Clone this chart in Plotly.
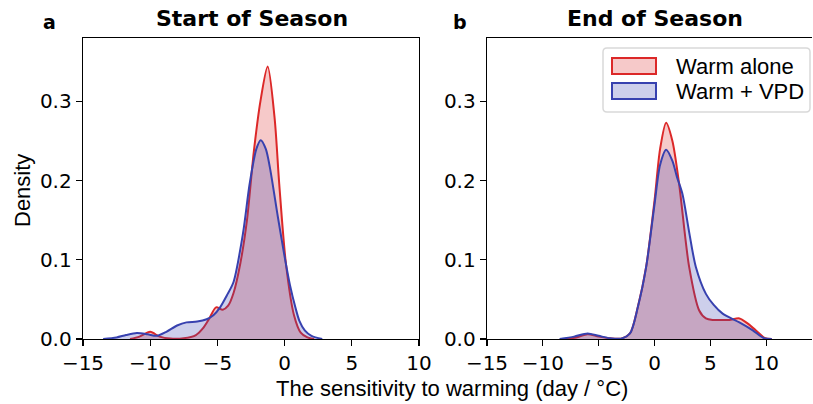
import plotly.graph_objects as go

# ---- data (x in day/°C, density) ----
sos_warm_x = [-11.5, -10.8, -10.0, -9.3, -8.5, -7.5, -6.6, -6.1, -5.6, -5.1, -4.6, -4.2, -3.8, -3.3, -2.8, -2.3, -1.8, -1.26, -0.75, -0.4, 0.1, 0.7, 1.2, 1.7, 2.2]
sos_warm_y = [0.0, 0.003, 0.009, 0.003, 0.0005, 0.001, 0.005, 0.013, 0.026, 0.040, 0.037, 0.042, 0.058, 0.095, 0.150, 0.235, 0.300, 0.344, 0.280, 0.196, 0.095, 0.030, 0.008, 0.002, 0.0]

sos_vpd_x = [-13.5, -12.5, -11.8, -11.0, -10.2, -9.5, -8.8, -8.0, -7.3, -6.5, -5.8, -5.3, -4.8, -4.3, -3.8, -3.1, -2.6, -2.1, -1.78, -1.4, -1.1, -0.5, 0.0, 0.4, 0.8, 1.1, 1.5, 2.0, 2.8]
sos_vpd_y = [0.0, 0.002, 0.005, 0.0075, 0.006, 0.004, 0.009, 0.017, 0.021, 0.022, 0.025, 0.030, 0.040, 0.055, 0.072, 0.133, 0.196, 0.240, 0.251, 0.240, 0.217, 0.154, 0.104, 0.068, 0.040, 0.023, 0.011, 0.004, 0.0]

eos_warm_x = [-8.0, -7.0, -6.0, -5.0, -4.0, -3.0, -2.2, -1.5, -0.75, 0.0, 0.5, 1.04, 1.6, 2.2, 3.1, 4.0, 4.6, 5.2, 6.0, 6.7, 7.6, 8.3, 9.06, 9.9, 10.5]
eos_warm_y = [0.0, 0.002, 0.006, 0.003, 0.001, 0.0005, 0.007, 0.040, 0.091, 0.175, 0.240, 0.273, 0.250, 0.196, 0.091, 0.036, 0.026, 0.024, 0.024, 0.024, 0.026, 0.020, 0.011, 0.001, 0.0]

eos_vpd_x = [-8.5, -7.2, -6.0, -5.0, -4.0, -3.0, -2.2, -1.5, -0.75, 0.0, 0.5, 1.04, 1.6, 2.0, 2.5, 3.1, 3.7, 4.6, 5.3, 6.1, 7.6, 8.8, 9.8, 10.5]
eos_vpd_y = [0.0, 0.003, 0.007, 0.004, 0.001, 0.0005, 0.007, 0.040, 0.091, 0.170, 0.220, 0.239, 0.225, 0.205, 0.183, 0.135, 0.091, 0.057, 0.043, 0.032, 0.021, 0.011, 0.001, 0.0]

series_names = ["Warm alone", "Warm + VPD"]
panel_titles = ["Start of Season", "End of Season"]
panel_letters = ["a", "b"]
y_ticks = [0.0, 0.1, 0.2, 0.3]
x_ticks = [-15, -10, -5, 0, 5, 10]
x_label = "The sensitivity to warming (day / °C)"
y_label = "Density"

RED = "rgb(220,40,40)"
RED_FILL = "rgba(220,40,40,0.25)"
BLUE = "rgb(55,65,175)"
BLUE_FILL = "rgba(55,65,175,0.25)"

W, H = 813, 404
ML, MR, MT, MB = 83, 1, 38, 65
PW = W - ML - MR
PH = H - MT - MB

def px2x(p):
    return (p - ML) / PW

def px2y(p):
    return (H - MB - p) / PH

fig = go.Figure()

panels = [
    ("x", "y", sos_warm_x, sos_warm_y, sos_vpd_x, sos_vpd_y),
    ("x2", "y2", eos_warm_x, eos_warm_y, eos_vpd_x, eos_vpd_y),
]
for xa, ya, wx, wy, vx, vy in panels:
    fig.add_trace(go.Scatter(x=wx, y=wy, mode="lines", line=dict(color=RED, width=2, shape="spline", smoothing=0.8),
                             fill="tozeroy", fillcolor=RED_FILL, name=series_names[0], showlegend=False,
                             xaxis=xa, yaxis=ya, hoverinfo="skip"))
    fig.add_trace(go.Scatter(x=vx, y=vy, mode="lines", line=dict(color=BLUE, width=2, shape="spline", smoothing=0.8),
                             fill="tozeroy", fillcolor=BLUE_FILL, name=series_names[1], showlegend=False,
                             xaxis=xa, yaxis=ya, hoverinfo="skip"))

tickfont = dict(family="DejaVu Sans", size=20, color="black")
ax_common = dict(showline=True, linecolor="black", linewidth=1.3, ticks="outside", ticklen=6, tickwidth=1.3,
                 tickcolor="black", showgrid=False, zeroline=False, tickfont=tickfont, automargin=False)

left_dom = [0, px2x(419)]
right_dom = [px2x(487), 1]

fig.update_layout(
    template="none",
    width=W, height=H, autosize=False, margin=dict(l=ML, r=MR, t=MT, b=MB, pad=0, autoexpand=False),
    plot_bgcolor="white", paper_bgcolor="white",
    xaxis=dict(domain=left_dom, range=[-15, 10], tickvals=x_ticks, mirror=True, anchor="y", **ax_common),
    yaxis=dict(domain=[0, 1], range=[0, 0.38], tickvals=y_ticks, tickformat=".1f", mirror=True, anchor="x", **ax_common),
    xaxis2=dict(domain=right_dom, range=[-15, 14.1], tickvals=x_ticks, mirror=True, anchor="y2", **ax_common),
    yaxis2=dict(domain=[0, 1], range=[0, 0.38], tickvals=y_ticks, tickformat=".1f", mirror=False, anchor="x2", **ax_common),
    showlegend=False,
)

# ---- legend drawn as shapes + text (matplotlib style) ----
def rounded_rect(x0, y0, x1, y1, r):
    X = px2x
    Y = px2y
    rx = r / PW
    ry = r / PH
    a, b, c, d = X(x0), Y(y1), X(x1), Y(y0)  # left, bottom, right, top
    return (f"M {a+rx},{d} L {c-rx},{d} Q {c},{d} {c},{d-ry} L {c},{b+ry} Q {c},{b} {c-rx},{b} "
            f"L {a+rx},{b} Q {a},{b} {a},{b+ry} L {a},{d-ry} Q {a},{d} {a+rx},{d} Z")

shapes = [
    dict(type="path", path=rounded_rect(603, 48, 810, 112, 4), xref="paper", yref="paper",
         line=dict(color="#d9d9d9", width=1.5), fillcolor="rgba(255,255,255,0.85)", layer="above"),
    dict(type="rect", xref="paper", yref="paper", x0=px2x(612), x1=px2x(656), y0=px2y(74), y1=px2y(58),
         line=dict(color=RED, width=2), fillcolor=RED_FILL, layer="above"),
    dict(type="rect", xref="paper", yref="paper", x0=px2x(612), x1=px2x(656), y0=px2y(99), y1=px2y(83),
         line=dict(color=BLUE, width=2), fillcolor=BLUE_FILL, layer="above"),
]
fig.update_layout(shapes=shapes)

annotations = [
    dict(text="<b>" + panel_titles[0] + "</b>", x=px2x(252), y=px2y(18), font=dict(family="DejaVu Sans", size=22, color="black")),
    dict(text="<b>" + panel_titles[1] + "</b>", x=px2x(655), y=px2y(18), font=dict(family="DejaVu Sans", size=22, color="black")),
    dict(text="<b>" + panel_letters[0] + "</b>", x=px2x(49), y=px2y(22), font=dict(family="DejaVu Sans", size=19, color="black")),
    dict(text="<b>" + panel_letters[1] + "</b>", x=px2x(460), y=px2y(22), font=dict(family="DejaVu Sans", size=19, color="black")),
    dict(text=x_label, x=px2x(452), y=px2y(388), font=dict(family="Liberation Sans", size=22, color="black")),
    dict(text=y_label, x=px2x(22), y=px2y(191), textangle=-90, font=dict(family="Liberation Sans", size=22, color="black")),
]
for a in annotations:
    a.update(xanchor="center")
annotations += [
    dict(text=series_names[0], x=px2x(674), y=px2y(67), xanchor="left", font=dict(family="Liberation Sans", size=22, color="black")),
    dict(text=series_names[1], x=px2x(674), y=px2y(92), xanchor="left", font=dict(family="Liberation Sans", size=22, color="black")),
]
for a in annotations:
    a.update(xref="paper", yref="paper", showarrow=False, yanchor="middle")
fig.update_layout(annotations=annotations)

post = (
    "document.body.style.margin='0';document.body.style.overflow='hidden';"
    "document.documentElement.style.overflow='hidden';"
)
fig.write_html("out.html",
               config={"displayModeBar": False, "responsive": False, "staticPlot": True},
               post_script=post)
